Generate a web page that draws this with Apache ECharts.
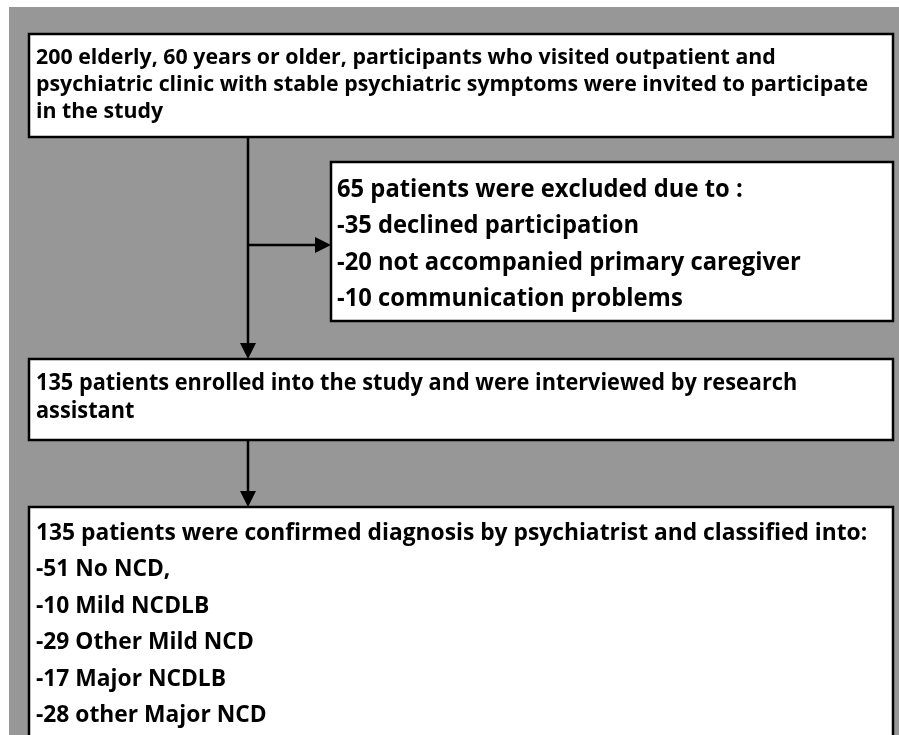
<!DOCTYPE html>
<html>
<head>
<meta charset="utf-8">
<script src="https://cdn.jsdelivr.net/npm/echarts@6/dist/echarts.min.js"></script>
<style>
  html, body { margin: 0; padding: 0; background: #fff; }
  #flow { width: 899px; height: 735px; }
</style>
</head>
<body>
<div id="flow"></div>
<script>
// participant flow numbers
const screenedN = 200;
const enrolledN = 135;
const excludedCounts = [35, 20, 10];
const excludedReasons = ['declined participation', 'not accompanied primary caregiver', 'communication problems'];
const diagnosisCounts = [51, 10, 29, 17, 28];
const diagnosisGroups = ['No NCD,', 'Mild NCDLB', 'Other Mild NCD', 'Major NCDLB', 'other Major NCD'];

const excludedN = excludedCounts.reduce((a, b) => a + b, 0);

const box1Lines = [
  screenedN + ' elderly, 60 years or older, participants who visited outpatient and',
  'psychiatric clinic with stable psychiatric symptoms were invited to participate',
  'in the study'
];
const box2Lines = [excludedN + ' patients were excluded due to :']
  .concat(excludedCounts.map((n, i) => '-' + n + ' ' + excludedReasons[i]));
const box3Lines = [
  enrolledN + ' patients enrolled into the study and were interviewed by research',
  'assistant'
];
const box4Lines = [enrolledN + ' patients were confirmed diagnosis by psychiatrist and classified into:']
  .concat(diagnosisCounts.map((n, i) => '-' + n + ' ' + diagnosisGroups[i]));

const SX = 0.97;   // squeeze a bit, original face is narrower
const LW = 2.5;

function box(x, y, w, h) {
  return {
    type: 'rect',
    shape: { x: x, y: y, width: w, height: h },
    style: { fill: '#fff', stroke: '#000', lineWidth: LW }
  };
}

function lines(arr, x, y0, step, size) {
  return arr.map((t, i) => ({
    type: 'text',
    x: x,
    y: y0 + i * step,
    scaleX: SX,
    style: {
      text: t,
      x: 0,
      y: 0,
      font: 'bold ' + size + 'px "Open Sans", "Noto Sans", sans-serif',
      fill: '#000',
      textAlign: 'left',
      textVerticalAlign: 'middle'
    }
  }));
}

function vArrow(x, y1, y2) {
  return [
    { type: 'line', shape: { x1: x, y1: y1, x2: x, y2: y2 - 14 }, style: { stroke: '#000', lineWidth: LW } },
    { type: 'polygon', shape: { points: [[x - 8, y2 - 16], [x + 8, y2 - 16], [x, y2]] }, style: { fill: '#000' } }
  ];
}

function hArrow(x1, x2, y) {
  return [
    { type: 'line', shape: { x1: x1, y1: y, x2: x2 - 14, y2: y }, style: { stroke: '#000', lineWidth: LW } },
    { type: 'polygon', shape: { points: [[x2 - 16, y - 8], [x2 - 16, y + 8], [x2, y]] }, style: { fill: '#000' } }
  ];
}

const chart = echarts.init(document.getElementById('flow'));

const elements = [
  { type: 'rect', shape: { x: 9, y: 7, width: 890, height: 728 }, style: { fill: '#979797' } },
  box(29, 34, 864, 103),
  box(331, 162, 562, 159),
  box(29, 359, 864, 81),
  box(29, 507, 864, 260)
]
  .concat(vArrow(248, 137, 359))
  .concat(hArrow(248, 331, 245))
  .concat(vArrow(248, 440, 507))
  .concat(lines(box1Lines, 36, 58, 27, 22))
  .concat(lines(box2Lines, 337, 190, 36.5, 24.5))
  .concat(lines(box3Lines, 36, 384, 28, 22.4))
  .concat(lines(box4Lines, 36, 533, 36.5, 23.5));

chart.setOption({
  backgroundColor: '#fff',
  animation: false,
  graphic: { elements: elements }
});
</script>
</body>
</html>
